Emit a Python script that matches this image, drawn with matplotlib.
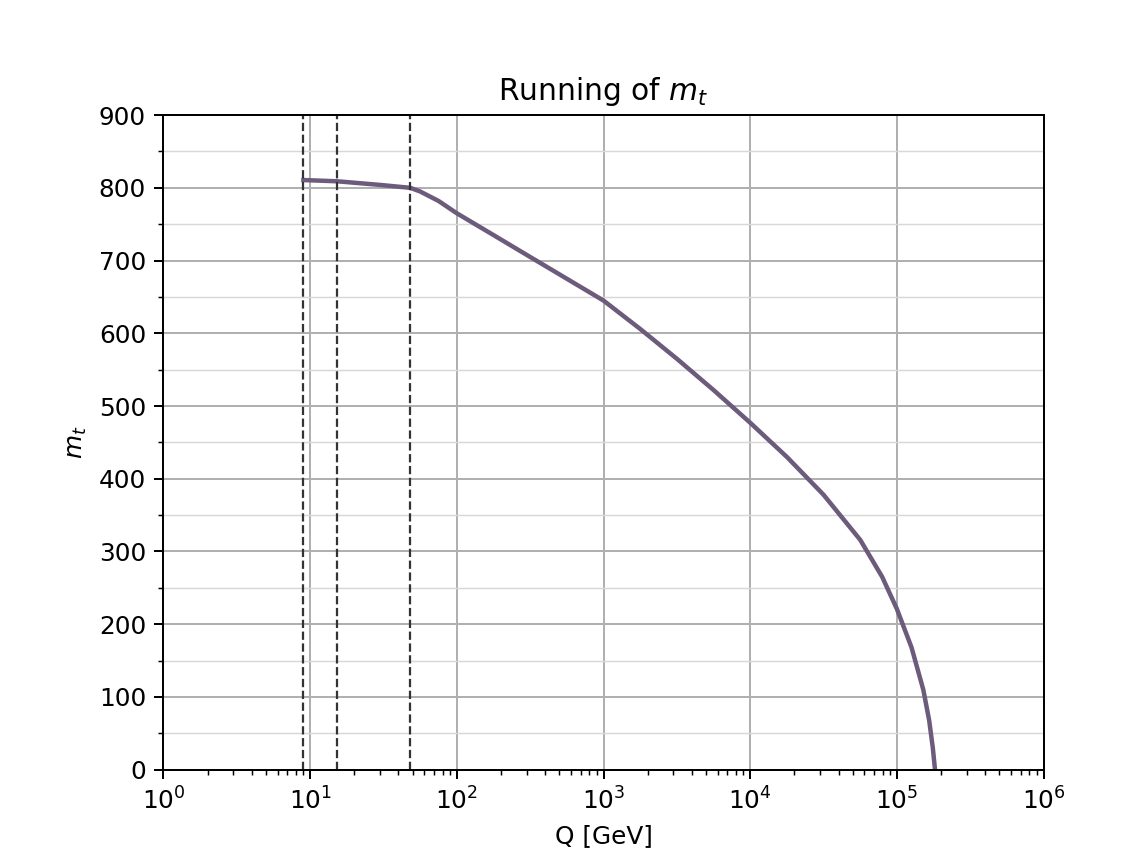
import matplotlib
matplotlib.use("Agg")
import matplotlib.pyplot as plt
from matplotlib.ticker import MultipleLocator

# scale Q [GeV] and running mass values
q_gev = [9.0, 15.3, 30.0, 48.2, 56.2, 75.0, 100.0, 178.0, 316.0, 562.0,
         1000.0, 1778.0, 3162.0, 5623.0, 10000.0, 17783.0, 31623.0,
         56234.0, 79433.0, 100000.0, 125893.0, 151356.0, 165959.0,
         175792.0, 181970.0]
mass = [810.7, 809.0, 804.0, 800.0, 795.0, 782.0, 765.0, 735.0, 705.0, 675.0,
        645.0, 606.0, 565.0, 522.0, 477.0, 430.0, 378.0,
        316.0, 265.0, 221.0, 168.0, 110.0, 68.0,
        30.0, 0.0]

# threshold scales marked by dashed lines
thresholds = [9.0, 15.3, 48.2]

dpi = 178.6
fig, ax = plt.subplots(figsize=(1143 / dpi, 859 / dpi), dpi=dpi)
fig.subplots_adjust(left=0.143, right=0.913, bottom=0.104, top=0.866)

ax.plot(q_gev, mass, color="#6d5b7b", linewidth=1.8)
for q in thresholds:
    ax.axvline(q, color="#333333", linestyle="--", linewidth=0.9)

ax.set_xscale("log")
ax.set_xlim(1e0, 1e6)
ax.set_ylim(0, 900)
ax.yaxis.set_major_locator(MultipleLocator(100))
ax.yaxis.set_minor_locator(MultipleLocator(50))
ax.grid(which="major", color="#b0b0b0", linewidth=0.8)
ax.grid(which="minor", axis="y", color="#d8d8d8", linewidth=0.6)

ax.set_title("Running of $m_t$")
ax.set_xlabel("Q [GeV]")
ax.set_ylabel("$m_t$")

fig.savefig("out.png", dpi=dpi)
